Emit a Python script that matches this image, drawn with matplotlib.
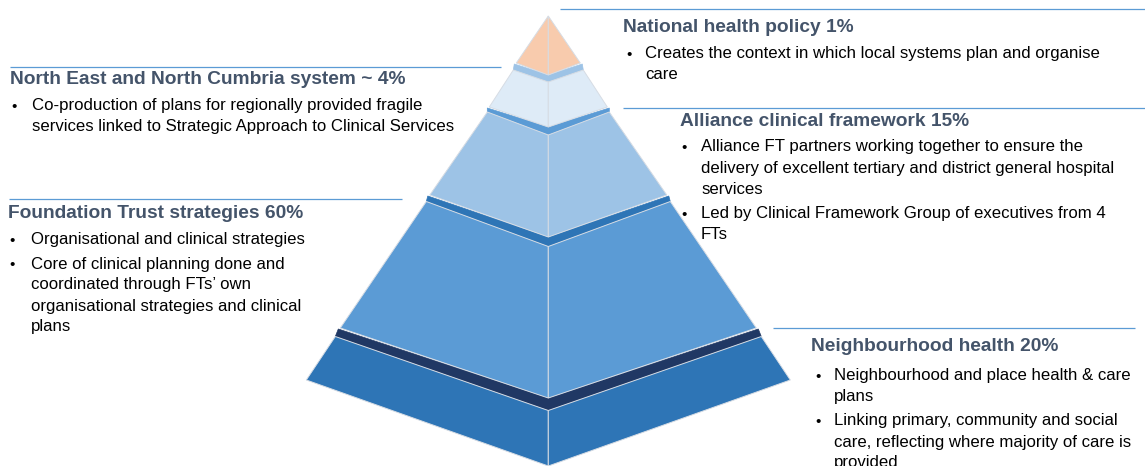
import matplotlib
matplotlib.use("Agg")
import matplotlib.pyplot as plt
from matplotlib.patches import Polygon

plt.rcParams['font.family'] = ['Liberation Sans', 'DejaVu Sans']

# ---- data ----
tier_names = ["National health policy", "North East and North Cumbria system ~", "Alliance clinical framework",
              "Foundation Trust strategies", "Neighbourhood health"]
tier_pct = ["1%", "4%", "15%", "60%", "20%"]
face_colors = ["#F8CBAD", "#DEEBF7", "#9DC3E6", "#5B9BD5", "#2E75B6"]
band_colors = [None, "#9DC3E6", "#5B9BD5", "#2E75B6", "#203864"]

bullets = [
    [["Creates the context in which local systems plan and organise", "care"]],
    [["Co-production of plans for regionally provided fragile",
      "services linked to Strategic Approach to Clinical Services"]],
    [["Alliance FT partners working together to ensure the",
      "delivery of excellent tertiary and district general hospital", "services"],
     ["Led by Clinical Framework Group of executives from 4", "FTs"]],
    [["Organisational and clinical strategies"],
     ["Core of clinical planning done and", "coordinated through FTs\u2019 own",
      "organisational strategies and clinical", "plans"]],
    [["Neighbourhood and place health & care", "plans"],
     ["Linking primary, community and social", "care, reflecting where majority of care is", "provided"]],
]

# ---- layout (pixel coords) ----
W, H = 1145, 466
fig = plt.figure(figsize=(W / 100, H / 100), dpi=100)
ax = fig.add_axes([0, 0, 1, 1])
ax.set_xlim(0, W)
ax.set_ylim(H, 0)
ax.axis('off')

cx = 548.3
# each face: (top half-width, top corner y, top center y, bottom half-width, bottom corner y, bottom center y)
faces = [
    (0, 16, 16, 32, 63, 75),
    (35, 70, 82, 59, 107, 127),
    (61, 112, 135, 118.5, 195, 237),
    (122, 201.5, 246.5, 208, 328, 398),
    (213, 336.5, 410.5, 242, 380, 466),
]
edge = "#D6DCE4"
for i, (thw, tcy, tcc, bhw, bcy, bcc) in enumerate(faces):
    if band_colors[i] is not None:
        p = faces[i - 1]
        band = [(cx - p[3] - 2, p[4] + 1), (cx, p[5]), (cx + p[3] + 2, p[4] + 1),
                (cx + thw, tcy), (cx, tcc), (cx - thw, tcy)]
        ax.add_patch(Polygon(band, closed=True, facecolor=band_colors[i], edgecolor=band_colors[i], lw=0.5, zorder=1))
    left = [(cx - thw, tcy), (cx, tcc), (cx, bcc), (cx - bhw, bcy)]
    right = [(cx + thw, tcy), (cx, tcc), (cx, bcc), (cx + bhw, bcy)]
    for poly in (left, right):
        ax.add_patch(Polygon(poly, closed=True, facecolor=face_colors[i], edgecolor=edge, lw=0.7, zorder=2))

# ---- text blocks ----
head_color = "#44546A"
line_color = "#5B9BD5"
# (line x0, line x1, line y, heading x, heading y, bullet x, text x, first bullet y)
blocks = [
    (560, 1145, 9, 623, 27.5, 626, 645, 53.5),
    (10, 501, 66.7, 10, 79.5, 11, 32, 105.5),
    (623, 1145, 108.3, 680, 122, 681, 701, 147),
    (9, 402, 199.3, 8, 213.5, 9, 31, 239.5),
    (773, 1135, 328.3, 811, 346.5, 815, 834, 375.5),
]
line_h = 21.0
bullet_gap = 3.5
for i, (lx0, lx1, ly, hx, hy, bx, tx, by) in enumerate(blocks):
    ax.plot([lx0, lx1], [ly, ly], color=line_color, lw=0.9, solid_capstyle='butt', zorder=3)
    ax.text(hx, hy, f"{tier_names[i]} {tier_pct[i]}", fontsize=13.8, fontweight='bold',
            color=head_color, va='center', ha='left', zorder=4)
    y = by
    for b in bullets[i]:
        ax.text(bx, y + 1, "\u2022", fontsize=11, color="#000000", va='center', ha='left', zorder=4)
        for line in b:
            ax.text(tx, y, line, fontsize=12.1, color="#000000", va='center', ha='left', zorder=4)
            y += line_h
        y += bullet_gap

fig.savefig("out.png", dpi=100)
